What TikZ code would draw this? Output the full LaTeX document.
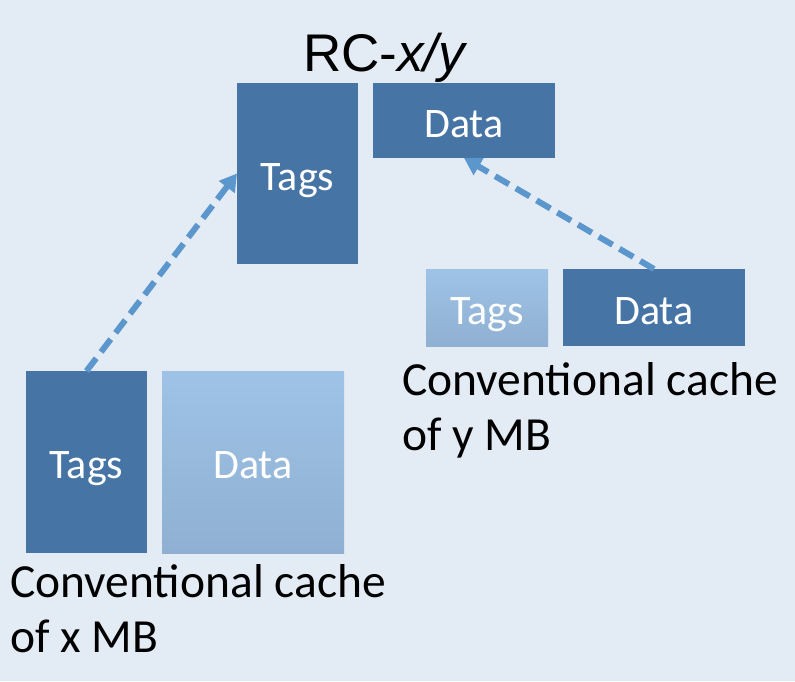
\documentclass[tikz,border=0pt]{standalone}
\usepackage{fontspec}
\setmainfont{Carlito}
\newfontfamily\arialfont{Liberation Sans}
\usetikzlibrary{arrows.meta}
\definecolor{bgc}{RGB}{227,235,245}
\definecolor{darkbox}{RGB}{70,116,164}
\definecolor{lighttop}{RGB}{158,195,230}
\definecolor{lightbot}{RGB}{143,176,210}
\definecolor{arrc}{RGB}{91,150,205}
\tikzset{
  cell/.style={rectangle, inner sep=0pt, outer sep=0pt, anchor=north west,
    text=white, font=\fontsize{42}{50}\selectfont, text height=33pt, text depth=0pt},
  darkcell/.style={cell, fill=darkbox},
  lightcell/.style={cell, top color=lighttop, bottom color=lightbot},
  caption/.style={anchor=base west, align=left, inner sep=0pt,
    font=\fontsize{47.5}{55}\selectfont},
  link/.style={draw=arrc, line width=6pt, dash pattern=on 16pt off 8pt,
    -{Triangle[length=17pt,width=19pt]}}
}
\begin{document}
\begin{tikzpicture}[x=1pt,y=-1pt]
\fill[bgc] (0,0) rectangle (795,681);
\useasboundingbox (0,0) rectangle (795,681);
\node[anchor=base west, inner sep=0pt, font=\arialfont\fontsize{53}{60}\selectfont] (title) at (303,71) {RC-\textit{x/y}};
\node[darkcell, minimum width=121pt, minimum height=181pt] (ttags) at (237,83) {Tags};
\node[darkcell, minimum width=182pt, minimum height=75pt] (tdata) at (373,83) {Data};
\node[lightcell, minimum width=122pt, minimum height=77pt] (rtags) at (426,269) {Tags};
\node[darkcell, minimum width=182pt, minimum height=77pt] (rdata) at (563,269) {Data};
\node[darkcell, minimum width=121pt, minimum height=182pt] (btags) at (26,371) {Tags};
\node[lightcell, minimum width=182pt, minimum height=182pt] (bdata) at (162,371) {Data};
\node[caption] (ycap) at (402,450) {Conventional cache\\of y MB};
\node[caption] (xcap) at (10,652) {Conventional cache\\of x MB};
\draw[link] (btags.north) -- (ttags.west);
\draw[link] (rdata.north) -- (tdata.south);
\end{tikzpicture}
\end{document}
